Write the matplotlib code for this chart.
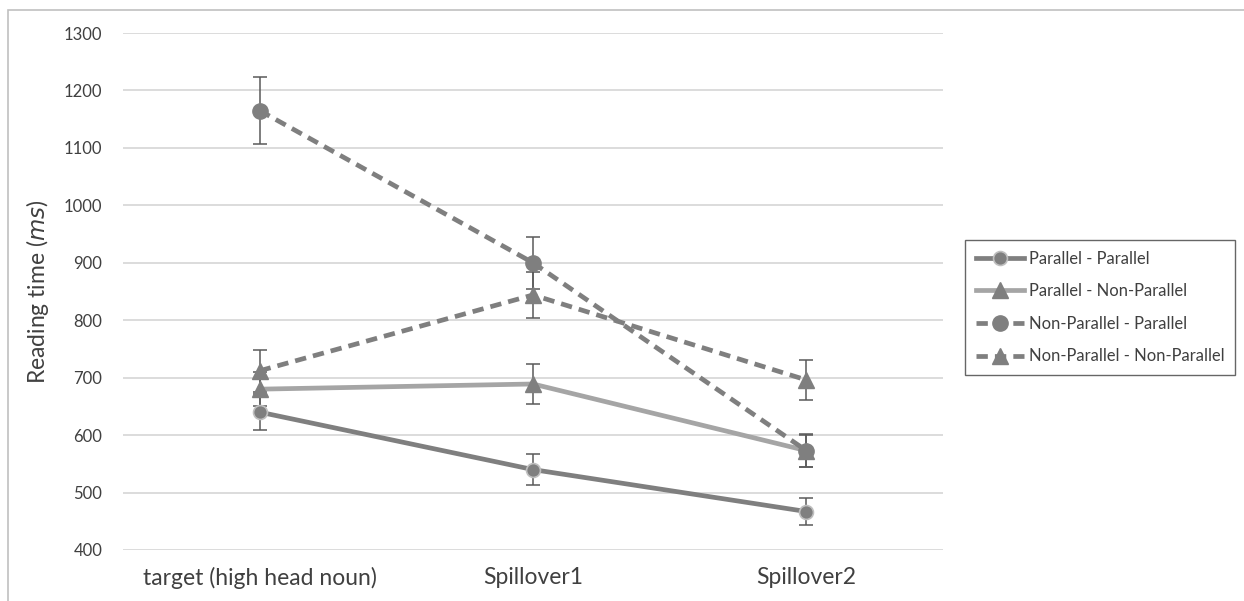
import matplotlib
matplotlib.use("Agg")
import matplotlib.pyplot as plt
from matplotlib.patches import Rectangle

# categories on the x axis
regions = ["target (high head noun)", "Spillover1", "Spillover2"]

# mean reading times (ms) and error bar half-widths
pp_mean = [640, 540, 467]
pp_err = [31, 27, 23]
pnp_mean = [680, 689, 573]
pnp_err = [30, 34, 28]
npp_mean = [1165, 900, 573]
npp_err = [58, 45, 29]
npnp_mean = [712, 844, 696]
npnp_err = [37, 40, 35]

labels = ["Parallel - Parallel", "Parallel - Non-Parallel",
          "Non-Parallel - Parallel", "Non-Parallel - Non-Parallel"]

plt.rcParams['font.family'] = ['Lato', 'DejaVu Sans']

fig = plt.figure(figsize=(12.44, 6.01), dpi=100)
ax = fig.add_axes([123 / 1244, 1 - 550 / 601, 820 / 1244, 517 / 601])

x = list(range(len(regions)))
err_kw = dict(fmt='none', ecolor='#5a5a5a', elinewidth=1.1, capsize=5, capthick=1.1, zorder=3)
for m, e in [(pp_mean, pp_err), (pnp_mean, pnp_err), (npp_mean, npp_err), (npnp_mean, npnp_err)]:
    ax.errorbar(x, m, yerr=e, **err_kw)

dash = (2.4, 1.5)
ax.plot(x, pp_mean, color='#7f7f7f', lw=3.4, marker='o', ms=10, mfc='#7f7f7f',
        mec='#bfbfbf', mew=1.2, label=labels[0], zorder=4)
ax.plot(x, pnp_mean, color='#a5a5a5', lw=3.4, marker='^', ms=11, mfc='#7f7f7f',
        mec='#7f7f7f', label=labels[1], zorder=4)
ax.plot(x, npp_mean, color='#7f7f7f', lw=3.4, ls=(0, dash), marker='o', ms=11,
        mfc='#7f7f7f', mec='#7f7f7f', label=labels[2], zorder=4)
ax.plot(x, npnp_mean, color='#7f7f7f', lw=3.4, ls=(0, dash), marker='^', ms=11,
        mfc='#7f7f7f', mec='#7f7f7f', label=labels[3], zorder=4)

ax.set_xlim(-0.5, 2.5)
ax.set_ylim(400, 1300)
ax.set_yticks(range(400, 1301, 100))
ax.set_xticks(x)
ax.set_xticklabels(regions, fontsize=16.5, color='#404040')
ax.tick_params(axis='y', labelsize=12, labelcolor='#404040', length=0, pad=15)
ax.tick_params(axis='x', length=0, pad=12)
ax.yaxis.grid(True, color='#d9d9d9', lw=1.3)
ax.set_axisbelow(True)
for s in ax.spines.values():
    s.set_visible(False)
ax.set_ylabel("Reading time ($\\it{ms}$)", fontsize=16.5, color='#404040', labelpad=9)

leg = ax.legend(loc='upper left', bbox_to_anchor=(965 / 1244, 1 - 240 / 601),
                bbox_transform=fig.transFigure, fontsize=11.9, frameon=True,
                fancybox=False, borderaxespad=0, handlelength=2.9,
                labelspacing=1.0, borderpad=0.65, handletextpad=0.3)
leg.get_frame().set_edgecolor('#404040')
leg.get_frame().set_linewidth(1)
for t in leg.get_texts():
    t.set_color('#404040')

# outer chart border
fig.patches.append(Rectangle((8 / 1244, -0.1), 1.2, 1 - 10 / 601 + 0.1,
                             transform=fig.transFigure, fill=False,
                             edgecolor='#c0c0c0', lw=1.2))

fig.savefig("out.png", dpi=100)
